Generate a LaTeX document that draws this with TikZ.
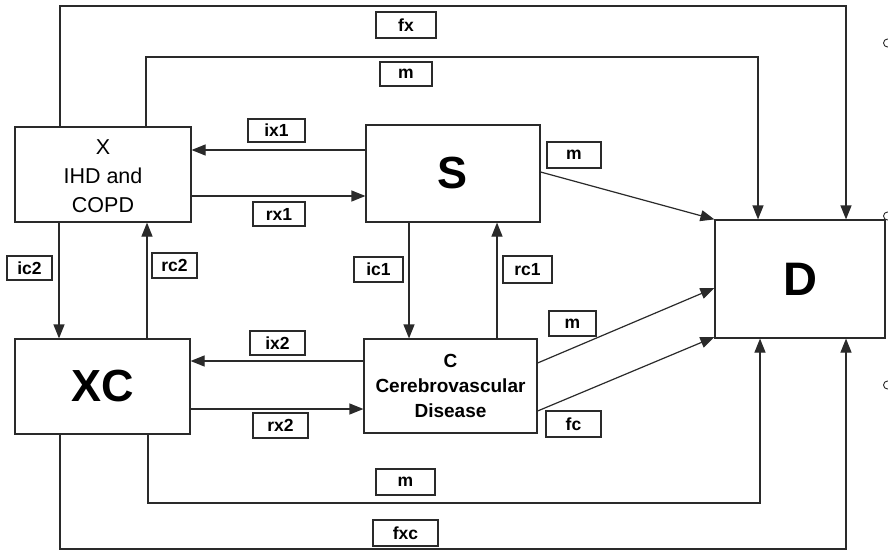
\documentclass[tikz,border=0pt]{standalone}
\usepackage{fontspec}
\setmainfont{Liberation Sans}
\usetikzlibrary{arrows.meta,calc}
\definecolor{ink}{HTML}{2A2A2A}
\begin{document}
\begin{tikzpicture}[x=1pt,y=-1pt,
  box/.style={draw=ink, line width=1.2pt, inner sep=0pt, align=center},
  lab/.style={draw=ink, line width=1.1pt, inner sep=0pt, font=\bfseries\fontsize{17.5}{17.5}\selectfont},
  ln/.style={draw=ink, line width=1.2pt},
  arr/.style={ln, -{Triangle[length=14pt,width=11pt]}},
  handle/.style={draw=ink, line width=0.9pt, fill=white}]
\useasboundingbox[fill=white] (0,0) rectangle (888,551);

% main boxes
\node[box, minimum width=176pt, minimum height=95pt] (X) at (103,174.5) {};
\node[font=\fontsize{21.5}{29}\selectfont, align=center, inner sep=0pt] at (103,176) {X\\IHD and\\COPD};
\node[box, minimum width=174pt, minimum height=97pt, font=\bfseries\fontsize{45}{45}\selectfont] (S) at (453,173.5) {S};
\node[box, minimum width=170pt, minimum height=118pt, font=\bfseries\fontsize{47}{47}\selectfont] (D) at (800,279) {D};
\node[box, minimum width=175pt, minimum height=95pt, font=\bfseries\fontsize{45}{45}\selectfont] (XC) at (102.5,386.5) {XC};
\node[box, minimum width=173pt, minimum height=94pt, font=\bfseries\fontsize{19}{25}\selectfont] (C) at (450.5,386) {C\\Cerebrovascular\\Disease};

% label boxes
\node[lab, minimum width=60pt, minimum height=26pt] (lfx) at (406,25) {fx};
\node[lab, minimum width=52pt, minimum height=24pt] (lm1) at (406,74) {m};
\node[lab, minimum width=57pt, minimum height=23pt] (lix1) at (276.5,130.5) {ix1};
\node[lab, minimum width=52pt, minimum height=24pt] (lrx1) at (279,214) {rx1};
\node[lab, minimum width=54pt, minimum height=26pt] (lmS) at (574,155) {m};
\node[lab, minimum width=45pt, minimum height=24pt] (lic2) at (29.5,268) {ic2};
\node[lab, minimum width=45pt, minimum height=25pt] (lrc2) at (174.5,265.5) {rc2};
\node[lab, minimum width=49pt, minimum height=25pt] (lic1) at (378.5,269.5) {ic1};
\node[lab, minimum width=49pt, minimum height=27pt] (lrc1) at (527.5,269.5) {rc1};
\node[lab, minimum width=55pt, minimum height=24pt] (lix2) at (277.5,343) {ix2};
\node[lab, minimum width=55pt, minimum height=25pt] (lrx2) at (280.5,425.5) {rx2};
\node[lab, minimum width=47pt, minimum height=25pt] (lmC) at (572.5,323.5) {m};
\node[lab, minimum width=55pt, minimum height=26pt] (lfc) at (573.5,424) {fc};
\node[lab, minimum width=59pt, minimum height=26pt] (lm2) at (405.5,482) {m};
\node[lab, minimum width=65pt, minimum height=26pt] (lfxc) at (405.5,533) {fxc};

% helper coordinates
\coordinate (fxtop) at (60,6);
\coordinate (mtop) at (146,57);
\coordinate (mbot) at (148,503);
\coordinate (fxcbot) at (60,549);

% top routes to D
\draw[arr] (X.north -| fxtop) -- (fxtop) -- (fxtop -| 846,0) -- (D.north -| 846,0);
\draw[arr] (X.north -| mtop) -- (mtop) -- (mtop -| 758,0) -- (D.north -| 758,0);

% X <-> S
\draw[arr] (S.west |- 0,150) -- (X.east |- 0,150);
\draw[arr] (X.east |- 0,196) -- (S.west |- 0,196);

% X <-> XC
\draw[arr] (X.south -| 59,0) -- (XC.north -| 59,0);
\draw[arr] (XC.north -| 147,0) -- (X.south -| 147,0);

% S <-> C
\draw[arr] (S.south -| 409,0) -- (C.north -| 409,0);
\draw[arr] (C.north -| 497,0) -- (S.south -| 497,0);

% XC <-> C
\draw[arr] (C.west |- 0,361) -- (XC.east |- 0,361);
\draw[arr] (XC.east |- 0,409) -- (C.west |- 0,409);

% to D diagonals
\draw[arr] (S.east |- 0,172) -- (D.north west);
\draw[arr] (C.east |- 0,363) -- (D.west |- 0,288);
\draw[arr] (C.east |- 0,411) -- (D.west |- 0,337);

% bottom routes to D
\draw[arr] (XC.south -| mbot) -- (mbot) -- (mbot -| 760,0) -- (D.south -| 760,0);
\draw[arr] (XC.south -| fxcbot) -- (fxcbot) -- (fxcbot -| 846,0) -- (D.south -| 846,0);

% selection handles at right edge
\draw[handle] (887.5,43) circle (4pt);
\draw[handle] (887.5,216) circle (4pt);
\draw[handle] (887.5,385) circle (4pt);
\end{tikzpicture}
\end{document}
